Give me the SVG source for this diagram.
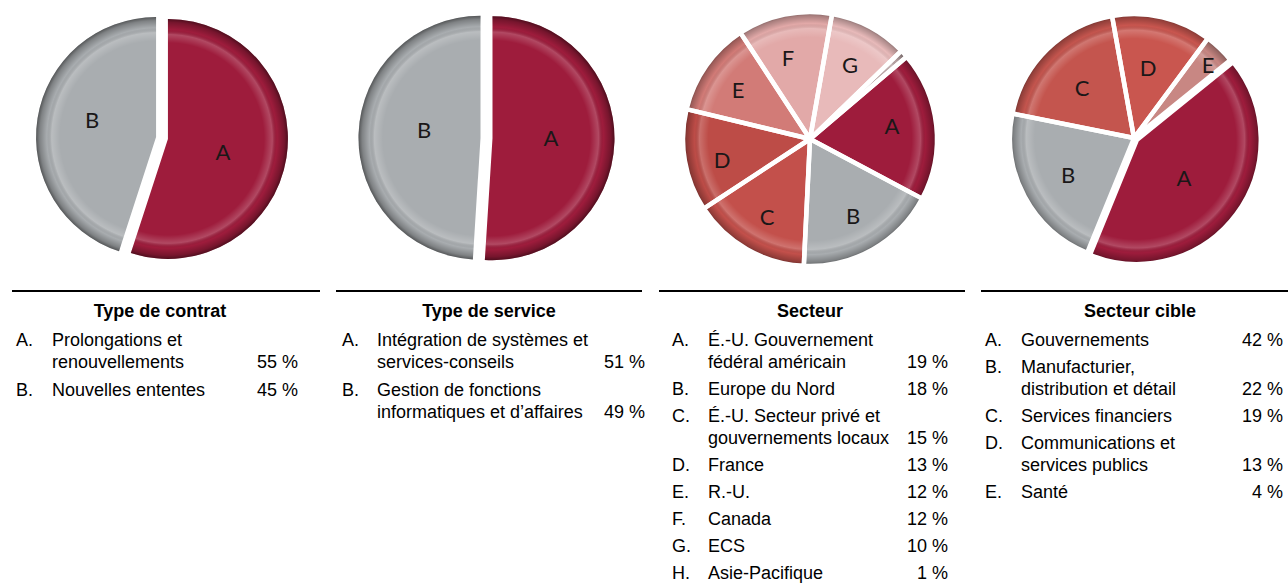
<svg xmlns="http://www.w3.org/2000/svg" width="1288" height="588" viewBox="0 0 1288 588">
<style>
.t{font-family:"Liberation Sans",Arial,sans-serif;font-size:18px;fill:#000}
.h{font-weight:bold;text-anchor:middle}
.p{text-anchor:end}
.lbl{font-family:Lato,"Open Sans",sans-serif;font-size:22px;fill:#1a1718;text-anchor:middle}
.rule{stroke:#000;stroke-width:2}
.sl{stroke:#fff;stroke-width:4.5;stroke-linejoin:round}
.cA{fill:#9e1c3c}.cB{fill:#a9adb0}
</style>
<defs>
<radialGradient id="rim120" gradientUnits="userSpaceOnUse" cx="0" cy="0" r="120">
<stop offset="0" stop-color="#fff" stop-opacity="0"/><stop offset="0.8" stop-color="#fff" stop-opacity="0"/><stop offset="0.87" stop-color="#fff" stop-opacity="0.2"/><stop offset="0.91" stop-color="#000" stop-opacity="0"/><stop offset="0.97" stop-color="#000" stop-opacity="0.25"/><stop offset="1" stop-color="#000" stop-opacity="0.5"/>
</radialGradient>
<radialGradient id="rim122" href="#rim120" r="122"/>
<radialGradient id="rim127" href="#rim120" r="127"/>
<radialGradient id="rim124" href="#rim120" r="124"/>
</defs>

<g id="pie-type-contrat">
<g transform="translate(162,138)">
<g transform="translate(5.93,0.94)"><path class="cA" d="M0,0 L0,-120 A120,120 0 1 1 -37.08,114.13 Z"/><path fill="url(#rim120)" d="M0,0 L0,-120 A120,120 0 1 1 -37.08,114.13 Z"/></g>
<g transform="translate(-5.93,-0.94)"><path class="cB" d="M0,0 L-37.08,114.13 A120,120 0 0 1 0,-120 Z"/><path fill="url(#rim120)" d="M0,0 L-37.08,114.13 A120,120 0 0 1 0,-120 Z"/></g>
</g>
<text class="lbl" x="92" y="128">B</text>
<text class="lbl" x="223" y="160">A</text>
</g>

<g id="pie-type-service">
<g transform="translate(486.5,138)">
<g transform="translate(6,0.19)"><path class="cA" d="M0,0 L0,-122 A122,122 0 1 1 -7.66,121.76 Z"/><path fill="url(#rim122)" d="M0,0 L0,-122 A122,122 0 1 1 -7.66,121.76 Z"/></g>
<g transform="translate(-6,-0.19)"><path class="cB" d="M0,0 L-7.66,121.76 A122,122 0 0 1 0,-122 Z"/><path fill="url(#rim122)" d="M0,0 L-7.66,121.76 A122,122 0 0 1 0,-122 Z"/></g>
</g>
<text class="lbl" x="424" y="138">B</text>
<text class="lbl" x="551" y="146">A</text>
</g>

<g id="pie-secteur">
<g transform="translate(810,139)">
<path fill="#e8baba" d="M0,0 L22.05,-125.07 A127,127 0 0 1 91.36,-88.22 Z"/>
<path fill="#b8a3a4" d="M0,0 L91.36,-88.22 A127,127 0 0 1 96.72,-82.31 Z"/>
<path class="cA" d="M0,0 L96.72,-82.31 A127,127 0 0 1 112.13,59.62 Z"/>
<path class="cB" d="M0,0 L112.13,59.62 A127,127 0 0 1 -6.2,126.85 Z"/>
<path fill="#c3504b" d="M0,0 L-6.2,126.85 A127,127 0 0 1 -106.27,69.54 Z"/>
<path fill="#bd4c47" d="M0,0 L-106.27,69.54 A127,127 0 0 1 -123.44,-29.86 Z"/>
<path fill="#d27b77" d="M0,0 L-123.44,-29.86 A127,127 0 0 1 -69.54,-106.27 Z"/>
<path fill="#e2a9a8" d="M0,0 L-69.54,-106.27 A127,127 0 0 1 22.05,-125.07 Z"/>
<g fill="url(#rim127)" class="sl">
<path d="M0,0 L22.05,-125.07 A127,127 0 0 1 91.36,-88.22 Z"/>
<path d="M0,0 L91.36,-88.22 A127,127 0 0 1 96.72,-82.31 Z"/>
<path d="M0,0 L96.72,-82.31 A127,127 0 0 1 112.13,59.62 Z"/>
<path d="M0,0 L112.13,59.62 A127,127 0 0 1 -6.2,126.85 Z"/>
<path d="M0,0 L-6.2,126.85 A127,127 0 0 1 -106.27,69.54 Z"/>
<path d="M0,0 L-106.27,69.54 A127,127 0 0 1 -123.44,-29.86 Z"/>
<path d="M0,0 L-123.44,-29.86 A127,127 0 0 1 -69.54,-106.27 Z"/>
<path d="M0,0 L-69.54,-106.27 A127,127 0 0 1 22.05,-125.07 Z"/>
</g>
</g>
<text class="lbl" x="892" y="134">A</text>
<text class="lbl" x="853" y="224">B</text>
<text class="lbl" x="767" y="225">C</text>
<text class="lbl" x="722" y="168">D</text>
<text class="lbl" x="738" y="98">E</text>
<text class="lbl" x="788" y="66">F</text>
<text class="lbl" x="850" y="73">G</text>
</g>

<g id="pie-secteur-cible">
<g transform="translate(1134,138)">
<path class="cB" d="M0,0 L-46.85,114.81 A124,124 0 0 1 -121.55,-24.51 Z"/>
<path fill="#c4554e" d="M0,0 L-121.55,-24.51 A124,124 0 0 1 -21.96,-122.04 Z"/>
<path fill="#c9564f" d="M0,0 L-21.96,-122.04 A124,124 0 0 1 73.93,-99.55 Z"/>
<path fill="#c88783" d="M0,0 L73.93,-99.55 A124,124 0 0 1 96.37,-78.04 Z"/>
<g fill="url(#rim124)" class="sl">
<path d="M0,0 L-46.85,114.81 A124,124 0 0 1 -121.55,-24.51 Z"/>
<path d="M0,0 L-121.55,-24.51 A124,124 0 0 1 -21.96,-122.04 Z"/>
<path d="M0,0 L-21.96,-122.04 A124,124 0 0 1 73.93,-99.55 Z"/>
<path d="M0,0 L73.93,-99.55 A124,124 0 0 1 96.37,-78.04 Z"/>
</g>
<g transform="translate(2.8,2.1)">
<path class="cA" d="M0,0 L96.37,-78.04 A124,124 0 0 1 -46.85,114.81 Z"/>
<path fill="url(#rim124)" class="sl" d="M0,0 L96.37,-78.04 A124,124 0 0 1 -46.85,114.81 Z"/>
</g>
</g>
<text class="lbl" x="1184" y="186">A</text>
<text class="lbl" x="1068" y="183">B</text>
<text class="lbl" x="1082" y="96">C</text>
<text class="lbl" x="1148" y="76">D</text>
<text class="lbl" x="1208" y="73">E</text>
</g>

<g id="legend-type-contrat" class="t">
<line class="rule" x1="12" y1="291" x2="320" y2="291"/>
<text class="t h" x="160" y="317">Type de contrat</text>
<text class="t" x="16" y="346">A.</text><text class="t" x="52" y="346">Prolongations et</text>
<text class="t" x="52" y="368">renouvellements</text><text class="t p" x="298" y="368">55 %</text>
<text class="t" x="16" y="396">B.</text><text class="t" x="52" y="396">Nouvelles ententes</text><text class="t p" x="298" y="396">45 %</text>
</g>

<g id="legend-type-service" class="t">
<line class="rule" x1="336" y1="291" x2="642" y2="291"/>
<text class="t h" x="489" y="317">Type de service</text>
<text class="t" x="342" y="346">A.</text><text class="t" x="377" y="346">Intégration de systèmes et</text>
<text class="t" x="377" y="368">services-conseils</text><text class="t p" x="645" y="368">51 %</text>
<text class="t" x="342" y="396">B.</text><text class="t" x="377" y="396">Gestion de fonctions</text>
<text class="t" x="377" y="418">informatiques et d’affaires</text><text class="t p" x="645" y="418">49 %</text>
</g>

<g id="legend-secteur" class="t">
<line class="rule" x1="659" y1="291" x2="965" y2="291"/>
<text class="t h" x="810" y="317">Secteur</text>
<text class="t" x="672" y="346">A.</text><text class="t" x="708" y="346">É.-U. Gouvernement</text>
<text class="t" x="708" y="368">fédéral américain</text><text class="t p" x="948" y="368">19 %</text>
<text class="t" x="672" y="395">B.</text><text class="t" x="708" y="395">Europe du Nord</text><text class="t p" x="948" y="395">18 %</text>
<text class="t" x="672" y="422">C.</text><text class="t" x="708" y="422">É.-U. Secteur privé et</text>
<text class="t" x="708" y="444">gouvernements locaux</text><text class="t p" x="948" y="444">15 %</text>
<text class="t" x="672" y="471">D.</text><text class="t" x="708" y="471">France</text><text class="t p" x="948" y="471">13 %</text>
<text class="t" x="672" y="498">E.</text><text class="t" x="708" y="498">R.-U.</text><text class="t p" x="948" y="498">12 %</text>
<text class="t" x="672" y="525">F.</text><text class="t" x="708" y="525">Canada</text><text class="t p" x="948" y="525">12 %</text>
<text class="t" x="672" y="552">G.</text><text class="t" x="708" y="552">ECS</text><text class="t p" x="948" y="552">10 %</text>
<text class="t" x="672" y="579">H.</text><text class="t" x="708" y="579">Asie-Pacifique</text><text class="t p" x="948" y="579">1 %</text>
</g>

<g id="legend-secteur-cible" class="t">
<line class="rule" x1="981" y1="291" x2="1288" y2="291"/>
<text class="t h" x="1140" y="317">Secteur cible</text>
<text class="t" x="985" y="346">A.</text><text class="t" x="1021" y="346">Gouvernements</text><text class="t p" x="1283" y="346">42 %</text>
<text class="t" x="985" y="373">B.</text><text class="t" x="1021" y="373">Manufacturier,</text>
<text class="t" x="1021" y="395">distribution et détail</text><text class="t p" x="1283" y="395">22 %</text>
<text class="t" x="985" y="422">C.</text><text class="t" x="1021" y="422">Services financiers</text><text class="t p" x="1283" y="422">19 %</text>
<text class="t" x="985" y="449">D.</text><text class="t" x="1021" y="449">Communications et</text>
<text class="t" x="1021" y="471">services publics</text><text class="t p" x="1283" y="471">13 %</text>
<text class="t" x="985" y="498">E.</text><text class="t" x="1021" y="498">Santé</text><text class="t p" x="1283" y="498">4 %</text>
</g>
</svg>
